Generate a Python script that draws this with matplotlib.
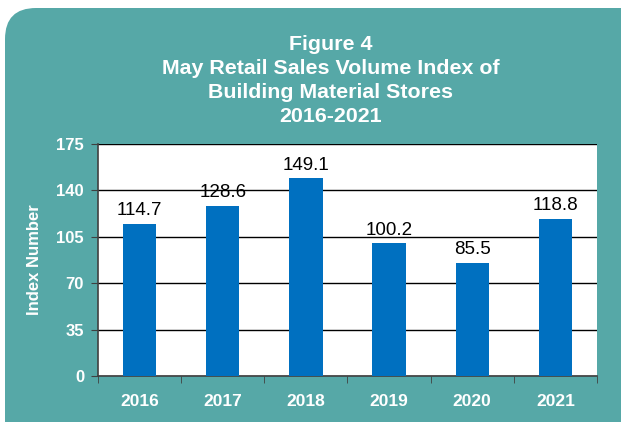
import matplotlib.pyplot as plt
from matplotlib.patches import FancyBboxPatch
import numpy as np

plt.rcParams['font.family'] = ['Liberation Sans', 'DejaVu Sans']

years = ["2016", "2017", "2018", "2019", "2020", "2021"]
values = [114.7, 128.6, 149.1, 100.2, 85.5, 118.8]
yticks = [0, 35, 70, 105, 140, 175]

teal = "#56A8A7"
blue = "#0070C0"

fig = plt.figure(figsize=(6.21, 4.22), dpi=100)
fig.patch.set_facecolor("white")

# rounded teal panel, runs off the right and bottom edges
box = FancyBboxPatch((5 / 621, -0.1), 1.2, (422 - 8) / 422 + 0.1,
                     boxstyle="round,pad=0,rounding_size=0.05",
                     transform=fig.transFigure, facecolor=teal,
                     edgecolor="none", zorder=-5, mutation_aspect=621 / 422)
fig.patches.append(box)

title = "Figure 4\nMay Retail Sales Volume Index of\nBuilding Material Stores\n2016-2021"
fig.text(331 / 621, 1 - 80.5 / 422, title, ha="center", va="center", color="white",
         fontsize=15.4, fontweight="bold", linespacing=1.32)

ax = fig.add_axes([98 / 621, 46 / 422, 499 / 621, 232 / 422])
ax.set_zorder(2)
ax.set_facecolor("white")
x = np.arange(len(years))
ax.bar(x, values, width=0.4, color=blue, zorder=3)
for xi, v in zip(x, values):
    ax.text(xi, v + 3.5, f"{v:.1f}", ha="center", va="bottom", fontsize=13.5, color="black")

ax.set_xlim(-0.5, len(years) - 0.5)
ax.set_ylim(0, 175)
ax.set_yticks(yticks)
ax.set_yticklabels([str(t) for t in yticks], color="white", fontsize=12, fontweight="bold")
ax.yaxis.grid(True, color="black", linewidth=1, zorder=0)
ax.set_axisbelow(True)

ax.set_xticks(x)
ax.set_xticklabels(years, color="white", fontsize=12.5, fontweight="bold")
ax.set_xticks(np.arange(-0.5, len(years)), minor=True)
ax.tick_params(axis="x", which="major", length=0, pad=13)
ax.tick_params(axis="x", which="minor", length=5, color="#404040", direction="out")
ax.tick_params(axis="y", length=5, color="#404040", direction="out", pad=5)

for s in ["top", "right"]:
    ax.spines[s].set_visible(False)
for s in ["left", "bottom"]:
    ax.spines[s].set_color("#404040")
    ax.spines[s].set_linewidth(1.2)

ax.set_ylabel("Index Number", color="white", fontsize=12, fontweight="bold", labelpad=10)

fig.savefig("out.png", dpi=100, facecolor=fig.get_facecolor())
